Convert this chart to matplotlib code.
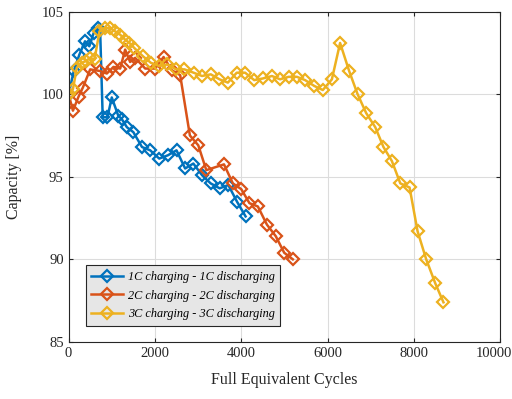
import numpy as np
import matplotlib.pyplot as plt
from matplotlib.transforms import ScaledTranslation

# capacity fade vs full equivalent cycles for three C-rates
fec_1c = [0, 120, 250, 380, 480, 580, 690, 730, 790, 900, 1000, 1150, 1230,
          1350, 1500, 1700, 1890, 2100, 2300, 2500, 2700, 2890, 3090, 3290,
          3500, 3700, 3900, 4100]
cap_1c = [100.0, 101.4, 102.4, 103.2, 102.9, 103.7, 104.0, 103.9, 98.6, 98.6,
          99.8, 98.7, 98.5, 98.0, 97.7, 96.8, 96.6, 96.1, 96.3, 96.6, 95.5,
          95.8, 95.1, 94.6, 94.3, 94.5, 93.5, 92.6]

fec_2c = [0, 100, 230, 330, 500, 730, 885, 1040, 1195, 1310, 1425, 1540, 1775,
          2005, 2200, 2390, 2585, 2810, 3005, 3190, 3600, 3805, 4000, 4190,
          4385, 4595, 4800, 4995, 5195]
cap_2c = [100.0, 99.0, 99.85, 100.4, 101.5, 101.4, 101.25, 101.65, 101.55,
          102.7, 101.95, 102.2, 101.55, 101.55, 102.25, 101.45, 101.15, 97.5,
          96.9, 95.4, 95.75, 94.6, 94.25, 93.4, 93.2, 92.1, 91.4, 90.4, 90.0]

fec_3c = [0, 100, 190, 300, 400, 500, 600, 715, 840, 960, 1080, 1195, 1310,
          1410, 1520, 1720, 1905, 2105, 2290, 2490, 2685, 2895, 3090, 3295,
          3495, 3690, 3895, 4090, 4300, 4500, 4710, 4900, 5095, 5290, 5480,
          5690, 5890, 6100, 6290, 6500, 6695, 6895, 7105, 7295, 7490, 7685,
          7900, 8085, 8285, 8495, 8685]
cap_3c = [100.0, 100.3, 101.6, 101.9, 102.0, 102.2, 102.1, 103.8, 104.0,
          104.0, 103.8, 103.6, 103.3, 103.1, 102.8, 102.3, 101.9, 101.7, 101.8,
          101.5, 101.5, 101.3, 101.1, 101.2, 100.9, 100.7, 101.3, 101.3, 100.85,
          100.95, 101.1, 100.9, 101.05, 101.05, 100.85, 100.5, 100.25, 100.9,
          103.1, 101.4, 100.0, 98.85, 98.0, 96.8, 95.95, 94.6, 94.35, 91.7,
          90.0, 88.55, 87.4]

labels = ['1C charging - 1C discharging',
          '2C charging - 2C discharging',
          '3C charging - 3C discharging']
colors = ['#0072BD', '#D95319', '#EDB120']

plt.rcParams['font.family'] = ['Liberation Serif', 'DejaVu Serif']

fig = plt.figure(figsize=(5.12, 3.99), dpi=100)
ax = fig.add_axes([0.134, 0.143, 0.843, 0.828])

series = [(fec_1c, cap_1c), (fec_2c, cap_2c), (fec_3c, cap_3c)]
for (x, y), c, lab in zip(series, colors, labels):
    ax.plot(x, y, color=c, lw=1.8, marker='D', markersize=6,
            markerfacecolor='none', markeredgewidth=1.6, label=lab)

ax.set_xlim(0, 10000)
ax.set_ylim(85, 105)
ax.set_xticks(np.arange(0, 10001, 2000))
ax.set_yticks(np.arange(85, 106, 5))
ax.grid(True, color='#dcdcdc', lw=0.8)
ax.set_axisbelow(True)
ax.tick_params(direction='in', top=True, right=True, labelsize=10.5,
               colors='#262626', length=3)
for sp in ax.spines.values():
    sp.set_color('#262626')
    sp.set_linewidth(0.8)

# keep the last x tick label inside the figure
last = ax.get_xticklabels()[-1]
last.set_transform(last.get_transform() +
                   ScaledTranslation(-6 / 100, 0, fig.dpi_scale_trans))

ax.set_xlabel('Full Equivalent Cycles', fontsize=11.5, color='#262626',
              labelpad=9)
ax.set_ylabel('Capacity [%]', fontsize=11.5, color='#262626', labelpad=14)

leg = ax.legend(loc='lower left', bbox_to_anchor=(0.025, 0.03),
                prop={'style': 'italic', 'size': 8.8}, fancybox=False,
                framealpha=1, facecolor='#e6e6e6', edgecolor='#262626',
                handlelength=2.6, borderpad=0.45, labelspacing=0.55,
                handletextpad=0.4)
leg.get_frame().set_linewidth(0.8)

fig.savefig('out.png', dpi=100)
